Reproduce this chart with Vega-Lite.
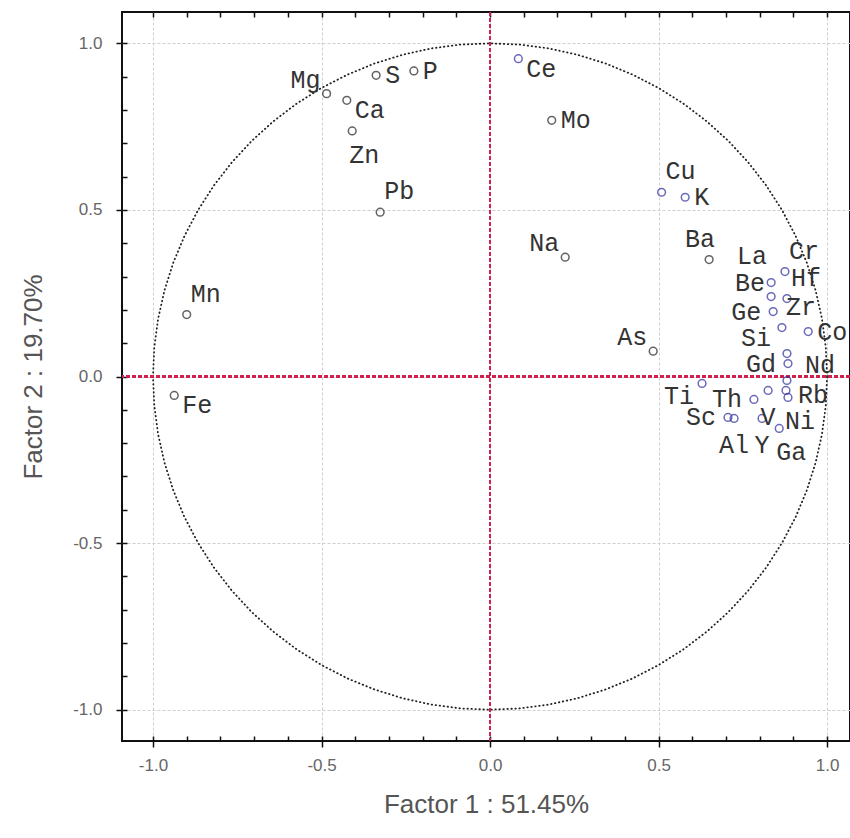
{
 "$schema": "https://vega.github.io/schema/vega-lite/v6.json",
 "width": 728, "height": 729,
 "autosize": {"type": "none"},
 "padding": {"left": 122, "top": 12, "right": 0, "bottom": 97},
 "background": "white",
 "config": {"view": {"stroke": "#111", "strokeWidth": 2}},
 "datasets": {
  "circle": [
   {"a":0,"cx":1,"cy":0},{"a":5,"cx":0.9962,"cy":0.0872},{"a":10,"cx":0.9848,"cy":0.1736},{"a":15,"cx":0.9659,"cy":0.2588},{"a":20,"cx":0.9397,"cy":0.342},{"a":25,"cx":0.9063,"cy":0.4226},{"a":30,"cx":0.866,"cy":0.5},{"a":35,"cx":0.8192,"cy":0.5736},{"a":40,"cx":0.766,"cy":0.6428},{"a":45,"cx":0.7071,"cy":0.7071},{"a":50,"cx":0.6428,"cy":0.766},{"a":55,"cx":0.5736,"cy":0.8192},{"a":60,"cx":0.5,"cy":0.866},{"a":65,"cx":0.4226,"cy":0.9063},{"a":70,"cx":0.342,"cy":0.9397},{"a":75,"cx":0.2588,"cy":0.9659},{"a":80,"cx":0.1736,"cy":0.9848},{"a":85,"cx":0.0872,"cy":0.9962},{"a":90,"cx":0,"cy":1},
   {"a":95,"cx":-0.0872,"cy":0.9962},{"a":100,"cx":-0.1736,"cy":0.9848},{"a":105,"cx":-0.2588,"cy":0.9659},{"a":110,"cx":-0.342,"cy":0.9397},{"a":115,"cx":-0.4226,"cy":0.9063},{"a":120,"cx":-0.5,"cy":0.866},{"a":125,"cx":-0.5736,"cy":0.8192},{"a":130,"cx":-0.6428,"cy":0.766},{"a":135,"cx":-0.7071,"cy":0.7071},{"a":140,"cx":-0.766,"cy":0.6428},{"a":145,"cx":-0.8192,"cy":0.5736},{"a":150,"cx":-0.866,"cy":0.5},{"a":155,"cx":-0.9063,"cy":0.4226},{"a":160,"cx":-0.9397,"cy":0.342},{"a":165,"cx":-0.9659,"cy":0.2588},{"a":170,"cx":-0.9848,"cy":0.1736},{"a":175,"cx":-0.9962,"cy":0.0872},{"a":180,"cx":-1,"cy":0},
   {"a":185,"cx":-0.9962,"cy":-0.0872},{"a":190,"cx":-0.9848,"cy":-0.1736},{"a":195,"cx":-0.9659,"cy":-0.2588},{"a":200,"cx":-0.9397,"cy":-0.342},{"a":205,"cx":-0.9063,"cy":-0.4226},{"a":210,"cx":-0.866,"cy":-0.5},{"a":215,"cx":-0.8192,"cy":-0.5736},{"a":220,"cx":-0.766,"cy":-0.6428},{"a":225,"cx":-0.7071,"cy":-0.7071},{"a":230,"cx":-0.6428,"cy":-0.766},{"a":235,"cx":-0.5736,"cy":-0.8192},{"a":240,"cx":-0.5,"cy":-0.866},{"a":245,"cx":-0.4226,"cy":-0.9063},{"a":250,"cx":-0.342,"cy":-0.9397},{"a":255,"cx":-0.2588,"cy":-0.9659},{"a":260,"cx":-0.1736,"cy":-0.9848},{"a":265,"cx":-0.0872,"cy":-0.9962},{"a":270,"cx":0,"cy":-1},
   {"a":275,"cx":0.0872,"cy":-0.9962},{"a":280,"cx":0.1736,"cy":-0.9848},{"a":285,"cx":0.2588,"cy":-0.9659},{"a":290,"cx":0.342,"cy":-0.9397},{"a":295,"cx":0.4226,"cy":-0.9063},{"a":300,"cx":0.5,"cy":-0.866},{"a":305,"cx":0.5736,"cy":-0.8192},{"a":310,"cx":0.6428,"cy":-0.766},{"a":315,"cx":0.7071,"cy":-0.7071},{"a":320,"cx":0.766,"cy":-0.6428},{"a":325,"cx":0.8192,"cy":-0.5736},{"a":330,"cx":0.866,"cy":-0.5},{"a":335,"cx":0.9063,"cy":-0.4226},{"a":340,"cx":0.9397,"cy":-0.342},{"a":345,"cx":0.9659,"cy":-0.2588},{"a":350,"cx":0.9848,"cy":-0.1736},{"a":355,"cx":0.9962,"cy":-0.0872},{"a":360,"cx":1,"cy":0}
  ],
  "pts": [
   {"el":"Mg","x":-0.485,"y":0.849,"side":"lu"},
   {"el":"S","x":-0.338,"y":0.904,"side":"r"},
   {"el":"P","x":-0.226,"y":0.917,"side":"r"},
   {"el":"Ca","x":-0.425,"y":0.829,"side":"rd"},
   {"el":"Zn","x":-0.409,"y":0.737,"side":"d"},
   {"el":"Pb","x":-0.326,"y":0.493,"side":"u"},
   {"el":"Mn","x":-0.900,"y":0.186,"side":"u"},
   {"el":"Fe","x":-0.937,"y":-0.057,"side":"rd"},
   {"el":"Ce","x":0.084,"y":0.954,"side":"rd"},
   {"el":"Mo","x":0.183,"y":0.769,"side":"r"},
   {"el":"Cu","x":0.509,"y":0.553,"side":"u"},
   {"el":"K","x":0.579,"y":0.538,"side":"r"},
   {"el":"Na","x":0.223,"y":0.358,"side":"lu"},
   {"el":"Ba","x":0.650,"y":0.351,"side":"ul"},
   {"el":"As","x":0.484,"y":0.076,"side":"lu"},
   {"el":"La","x":0.834,"y":0.282,"side":"lu2"},
   {"el":"Cr","x":0.875,"y":0.315,"side":"u"},
   {"el":"Be","x":0.834,"y":0.240,"side":"lu"},
   {"el":"Hf","x":0.881,"y":0.234,"side":"u"},
   {"el":"Ge","x":0.840,"y":0.195,"side":"l"},
   {"el":"Zr","x":0.866,"y":0.147,"side":"u"},
   {"el":"Co","x":0.944,"y":0.135,"side":"r"},
   {"el":"Si","x":0.881,"y":0.069,"side":"lu3"},
   {"el":"Gd","x":0.884,"y":0.039,"side":"l"},
   {"el":"Nd","x":0.881,"y":-0.012,"side":"ru"},
   {"el":"Ti","x":0.629,"y":-0.021,"side":"ld"},
   {"el":"Th","x":0.783,"y":-0.069,"side":"l"},
   {"el":"V","x":0.825,"y":-0.042,"side":"dc"},
   {"el":"Rb","x":0.878,"y":-0.042,"side":"r2"},
   {"el":"Ni","x":0.884,"y":-0.063,"side":"d"},
   {"el":"Sc","x":0.706,"y":-0.123,"side":"l"},
   {"el":"Al","x":0.724,"y":-0.126,"side":"dc"},
   {"el":"Y","x":0.807,"y":-0.126,"side":"dc"},
   {"el":"Ga","x":0.858,"y":-0.156,"side":"d"}
  ]
 },
 "resolve": {"axis": {"x": "independent", "y": "independent"}},
 "data": {"name": "pts"},
 "layer": [
  {
   "data": {"name": "circle"},
   "mark": {"type": "line", "stroke": "#222", "strokeWidth": 1.8, "strokeDash": [0.5, 3.5], "strokeCap": "round"},
   "encoding": {
    "x": {"field": "cx", "type": "quantitative", "scale": {"domain": [-1.092, 1.068], "nice": false, "zero": false},
     "axis": {"orient": "bottom", "values": [-1, -0.5, 0, 0.5, 1], "labelExpr": "datum.value < 0 ? '-' + format(-datum.value, '.1f') : format(datum.value, '.1f')", "tickSize": 6, "tickColor": "#111", "tickWidth": 1.5, "domain": false, "grid": true, "gridColor": "#cfcfcf", "gridDash": [3, 2], "labelFont": "Liberation Sans", "labelFontSize": 17, "labelColor": "#666", "labelPadding": 10, "title": "Factor 1 : 51.45%", "titleFont": "Liberation Sans", "titleFontSize": 26, "titleFontWeight": "normal", "titleColor": "#555", "titlePadding": 18}},
    "y": {"field": "cy", "type": "quantitative", "scale": {"domain": [-1.094, 1.094], "nice": false, "zero": false},
     "axis": {"orient": "left", "values": [-1, -0.5, 0, 0.5, 1], "labelExpr": "datum.value < 0 ? '-' + format(-datum.value, '.1f') : format(datum.value, '.1f')", "tickSize": 6, "tickColor": "#111", "tickWidth": 1.5, "domain": false, "grid": true, "gridColor": "#cfcfcf", "gridDash": [3, 2], "labelFont": "Liberation Sans", "labelFontSize": 17, "labelColor": "#666", "labelPadding": 14, "title": "Factor 2 : 19.70%", "titleFont": "Liberation Sans", "titleFontSize": 26, "titleFontWeight": "normal", "titleColor": "#555", "titlePadding": 26}},
    "order": {"field": "a", "type": "quantitative"}
   }
  },
  {
   "mark": {"type": "rule", "stroke": "#d02050", "strokeWidth": 1.5, "strokeDash": [4, 2]},
   "encoding": {
    "x": {"datum": 0, "type": "quantitative",
     "axis": {"orient": "bottom", "values": [-1, -0.9, -0.8, -0.7, -0.6, -0.5, -0.4, -0.3, -0.2, -0.1, 0, 0.1, 0.2, 0.3, 0.4, 0.5, 0.6, 0.7, 0.8, 0.9, 1], "tickSize": -5, "tickColor": "#111", "tickWidth": 1.5, "labels": false, "grid": false, "domain": false, "title": null}}
   }
  },
  {
   "mark": {"type": "rule", "stroke": "#d02050", "strokeWidth": 1.5, "strokeDash": [4, 2]},
   "encoding": {
    "y": {"datum": 0, "type": "quantitative",
     "axis": {"orient": "left", "values": [-1, -0.9, -0.8, -0.7, -0.6, -0.5, -0.4, -0.3, -0.2, -0.1, 0, 0.1, 0.2, 0.3, 0.4, 0.5, 0.6, 0.7, 0.8, 0.9, 1], "tickSize": -5, "tickColor": "#111", "tickWidth": 1.5, "labels": false, "grid": false, "domain": false, "title": null}}
   }
  },
  {
   "mark": {"type": "point", "shape": "circle", "filled": false, "size": 60, "strokeWidth": 1.5},
   "encoding": {
    "x": {"field": "x", "type": "quantitative",
     "axis": {"orient": "top", "values": [-1, -0.9, -0.8, -0.7, -0.6, -0.5, -0.4, -0.3, -0.2, -0.1, 0, 0.1, 0.2, 0.3, 0.4, 0.5, 0.6, 0.7, 0.8, 0.9, 1], "tickSize": -5, "tickColor": "#111", "tickWidth": 1.5, "labels": false, "grid": false, "domain": false, "title": null}},
    "y": {"field": "y", "type": "quantitative", "axis": null},
    "color": {"condition": {"test": "indexof(['Ce','Cu','K','La','Cr','Be','Hf','Ge','Zr','Co','Si','Gd','Nd','Ti','Th','V','Rb','Ni','Sc','Al','Y','Ga'], datum.el) >= 0", "value": "#2c2c9c"}, "value": "#222"}
   }
  },
  {"transform": [{"filter": "datum.side == 'r'"}], "mark": {"type": "text", "align": "left", "baseline": "middle", "dx": 9, "dy": 0, "font": "Liberation Mono", "fontSize": 25, "fill": "#333"}, "encoding": {"x": {"field": "x", "type": "quantitative", "axis": null}, "y": {"field": "y", "type": "quantitative", "axis": null}, "text": {"field": "el"}}},
  {"transform": [{"filter": "datum.side == 'r2'"}], "mark": {"type": "text", "align": "left", "baseline": "middle", "dx": 12, "dy": 5, "font": "Liberation Mono", "fontSize": 25, "fill": "#333"}, "encoding": {"x": {"field": "x", "type": "quantitative", "axis": null}, "y": {"field": "y", "type": "quantitative", "axis": null}, "text": {"field": "el"}}},
  {"transform": [{"filter": "datum.side == 'rd'"}], "mark": {"type": "text", "align": "left", "baseline": "middle", "dx": 8, "dy": 10, "font": "Liberation Mono", "fontSize": 25, "fill": "#333"}, "encoding": {"x": {"field": "x", "type": "quantitative", "axis": null}, "y": {"field": "y", "type": "quantitative", "axis": null}, "text": {"field": "el"}}},
  {"transform": [{"filter": "datum.side == 'ru'"}], "mark": {"type": "text", "align": "left", "baseline": "middle", "dx": 18, "dy": -15, "font": "Liberation Mono", "fontSize": 25, "fill": "#333"}, "encoding": {"x": {"field": "x", "type": "quantitative", "axis": null}, "y": {"field": "y", "type": "quantitative", "axis": null}, "text": {"field": "el"}}},
  {"transform": [{"filter": "datum.side == 'l'"}], "mark": {"type": "text", "align": "right", "baseline": "middle", "dx": -12, "dy": 0, "font": "Liberation Mono", "fontSize": 25, "fill": "#333"}, "encoding": {"x": {"field": "x", "type": "quantitative", "axis": null}, "y": {"field": "y", "type": "quantitative", "axis": null}, "text": {"field": "el"}}},
  {"transform": [{"filter": "datum.side == 'ld'"}], "mark": {"type": "text", "align": "right", "baseline": "middle", "dx": -8, "dy": 13, "font": "Liberation Mono", "fontSize": 25, "fill": "#333"}, "encoding": {"x": {"field": "x", "type": "quantitative", "axis": null}, "y": {"field": "y", "type": "quantitative", "axis": null}, "text": {"field": "el"}}},
  {"transform": [{"filter": "datum.side == 'lu'"}], "mark": {"type": "text", "align": "right", "baseline": "middle", "dx": -6, "dy": -14, "font": "Liberation Mono", "fontSize": 25, "fill": "#333"}, "encoding": {"x": {"field": "x", "type": "quantitative", "axis": null}, "y": {"field": "y", "type": "quantitative", "axis": null}, "text": {"field": "el"}}},
  {"transform": [{"filter": "datum.side == 'lu2'"}], "mark": {"type": "text", "align": "right", "baseline": "middle", "dx": -4, "dy": -27, "font": "Liberation Mono", "fontSize": 25, "fill": "#333"}, "encoding": {"x": {"field": "x", "type": "quantitative", "axis": null}, "y": {"field": "y", "type": "quantitative", "axis": null}, "text": {"field": "el"}}},
  {"transform": [{"filter": "datum.side == 'lu3'"}], "mark": {"type": "text", "align": "right", "baseline": "middle", "dx": -16, "dy": -16, "font": "Liberation Mono", "fontSize": 25, "fill": "#333"}, "encoding": {"x": {"field": "x", "type": "quantitative", "axis": null}, "y": {"field": "y", "type": "quantitative", "axis": null}, "text": {"field": "el"}}},
  {"transform": [{"filter": "datum.side == 'u'"}], "mark": {"type": "text", "align": "left", "baseline": "middle", "dx": 4, "dy": -21, "font": "Liberation Mono", "fontSize": 25, "fill": "#333"}, "encoding": {"x": {"field": "x", "type": "quantitative", "axis": null}, "y": {"field": "y", "type": "quantitative", "axis": null}, "text": {"field": "el"}}},
  {"transform": [{"filter": "datum.side == 'ul'"}], "mark": {"type": "text", "align": "right", "baseline": "middle", "dx": 6, "dy": -21, "font": "Liberation Mono", "fontSize": 25, "fill": "#333"}, "encoding": {"x": {"field": "x", "type": "quantitative", "axis": null}, "y": {"field": "y", "type": "quantitative", "axis": null}, "text": {"field": "el"}}},
  {"transform": [{"filter": "datum.side == 'd'"}], "mark": {"type": "text", "align": "left", "baseline": "middle", "dx": -3, "dy": 24, "font": "Liberation Mono", "fontSize": 25, "fill": "#333"}, "encoding": {"x": {"field": "x", "type": "quantitative", "axis": null}, "y": {"field": "y", "type": "quantitative", "axis": null}, "text": {"field": "el"}}},
  {"transform": [{"filter": "datum.side == 'dc'"}], "mark": {"type": "text", "align": "center", "baseline": "middle", "dx": 0, "dy": 27, "font": "Liberation Mono", "fontSize": 25, "fill": "#333"}, "encoding": {"x": {"field": "x", "type": "quantitative", "axis": null}, "y": {"field": "y", "type": "quantitative", "axis": null}, "text": {"field": "el"}}}
 ]
}
